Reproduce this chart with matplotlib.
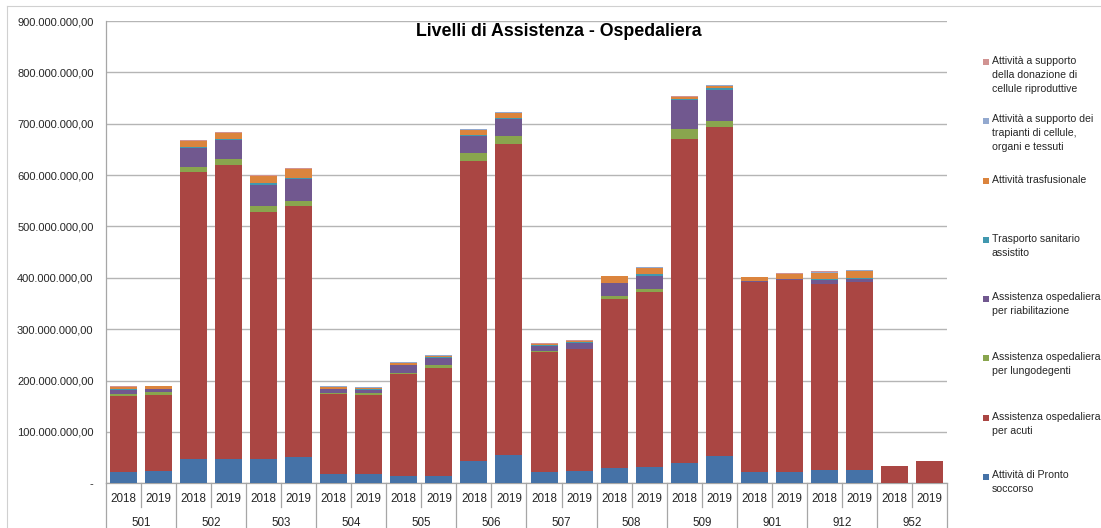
import matplotlib
matplotlib.use("Agg")
import matplotlib.pyplot as plt
from matplotlib.patches import Rectangle
from matplotlib.lines import Line2D
import numpy as np

plt.rcParams['font.family'] = ['Liberation Sans', 'DejaVu Sans']

groups = ['501', '502', '503', '504', '505', '506', '507', '508', '509', '901', '912', '952']
years = ['2018', '2019']

# values in millions of euro, one per bar (group x year)
pronto = [22.6, 24, 47, 47, 47, 51, 18, 18, 13.6, 15, 43, 54.5, 22.6, 24, 29, 31, 39.5, 53, 22.6, 22.6, 26, 26, 0, 0]
acuti = [147.4, 148, 559, 572, 481, 489, 155, 154, 198.4, 209, 584.6, 605.5, 233.4, 237, 329.5, 341.8, 630.9, 640, 369, 373.4, 362, 366, 33.7, 42.8]
lungodegenti = [4.5, 5, 9, 12, 12, 10.5, 3.5, 3, 3, 6.7, 15, 15.7, 1, 1, 5.9, 5.2, 18.6, 13, 0.2, 0.2, 0.3, 0.3, 0, 0]
riabilitazione = [8, 6.5, 38.5, 37.5, 40, 42, 7, 7, 15, 13.3, 33.4, 33.1, 10, 11, 24.6, 25, 58, 60.5, 1.8, 1.8, 6.7, 5.7, 0, 0]
trasporto = [0.5, 0.5, 1, 1, 4, 2.5, 1, 1, 1, 1, 1.6, 1.9, 2, 2, 1, 4, 1, 2.5, 0.4, 0.5, 3, 2, 0.5, 0.5]
trasfusionale = [4, 5, 12, 12, 14, 16.5, 3, 3, 3.6, 3, 11.1, 10.3, 2, 2.5, 13, 13, 4, 4.5, 7, 8.1, 11.7, 14, 0, 0]
trapianti = [0.5, 0.5, 0.5, 0.5, 1, 1, 1, 1, 0.7, 1, 0.6, 1, 1, 0.5, 0.5, 0.5, 1, 1, 0.5, 1.4, 1.3, 1, 0.2, 0.2]
donazione = [1, 0.5, 1.5, 1.5, 1, 0.5, 1, 1, 0.7, 0.6, 0.7, 1, 1, 0.5, 0.5, 0.5, 1, 1, 0.5, 1, 3, 1, 0.1, 0.1]

series = [
    ("Attività di Pronto\nsoccorso", pronto, '#4572A7'),
    ("Assistenza ospedaliera\nper acuti", acuti, '#AA4643'),
    ("Assistenza ospedaliera\nper lungodegenti", lungodegenti, '#89A54E'),
    ("Assistenza ospedaliera\nper riabilitazione", riabilitazione, '#71588F'),
    ("Trasporto sanitario\nassistito", trasporto, '#4198AF'),
    ("Attività trasfusionale", trasfusionale, '#DB843D'),
    ("Attività a supporto dei\ntrapianti di cellule,\norgani e tessuti", trapianti, '#93A9CF'),
    ("Attività a supporto\ndella donazione di\ncellule riproduttive", donazione, '#D19392'),
]

W, H = 1101, 528
fig = plt.figure(figsize=(W / 100, H / 100), dpi=100)
x0, x1, ytop, ybot = 106, 947, 21, 483.3
ax = fig.add_axes([x0 / W, 1 - ybot / H, (x1 - x0) / W, (ybot - ytop) / H])

n = len(groups) * len(years)
xpos = np.arange(n)
bottom = np.zeros(n)
for label, vals, col in series:
    v = np.array(vals) * 1e6
    ax.bar(xpos, v, 0.77, bottom=bottom, color=col, edgecolor='none', zorder=3)
    bottom += v

ax.set_xlim(-0.5, n - 0.5)
ax.set_ylim(0, 900e6)
ax.set_yticks(np.arange(0, 900e6 + 1, 100e6))


def fmt(v):
    if v == 0:
        return '-'
    s = f"{int(round(v)):,}".replace(',', '.')
    return s + ',00'


ax.set_yticklabels([fmt(v) for v in ax.get_yticks()])
ax.tick_params(axis='y', length=0, pad=9, labelsize=8, labelcolor='#262626')
ax.set_xticks([])
ax.grid(axis='y', color='#b5b5b5', linewidth=1.0, zorder=0)
for s in ['top', 'right']:
    ax.spines[s].set_visible(False)
for s in ['left', 'bottom']:
    ax.spines[s].set_color('#a6a6a6')
    ax.spines[s].set_linewidth(0.9)

# category axis (two-level)
tr = ax.get_xaxis_transform()
ah = ybot - ytop
yr_line = -(507 - ybot) / ah
bottom_edge = -(H - ybot) / ah
yr_text = -(499 - ybot) / ah
gr_text = -(523 - ybot) / ah
for i in range(n + 1):
    xb = i - 0.5
    if i % 2 == 0:
        ax.plot([xb, xb], [0, bottom_edge], transform=tr, color='#a6a6a6', lw=0.9, clip_on=False)
    else:
        ax.plot([xb, xb], [0, yr_line], transform=tr, color='#a6a6a6', lw=0.9, clip_on=False)
for i in range(n):
    ax.text(i, yr_text, years[i % 2], transform=tr, ha='center', va='center', fontsize=8.4, color='#262626')
for g, name in enumerate(groups):
    ax.text(2 * g + 0.5, gr_text, name, transform=tr, ha='center', va='center', fontsize=8.4, color='#262626')

# title
fig.text(559 / W, 1 - 32 / H, "Livelli di Assistenza - Ospedaliera", ha='center', va='center',
         fontsize=12.8, fontweight='bold', color='black')

# legend (top to bottom)
leg_y = [62, 121, 181, 240, 299, 358, 418, 477]
for (label, vals, col), yy in zip(reversed(series), leg_y):
    fig.patches.append(Rectangle((983 / W, 1 - (yy + 3) / H), 6 / W, 6 / H, transform=fig.transFigure,
                                 facecolor=col, edgecolor='none'))
    fig.text(992 / W, 1 - (yy - 6.5) / H, label, ha='left', va='top', fontsize=7.6,
             color='#262626', linespacing=1.5)

# chart frame
fig.add_artist(Line2D([7 / W, 7 / W], [0, 1 - 6 / H], transform=fig.transFigure, color='#d0d0d0', lw=0.8))
fig.add_artist(Line2D([7 / W, 1], [1 - 6 / H, 1 - 6 / H], transform=fig.transFigure, color='#d0d0d0', lw=0.8))

fig.savefig('out.png', dpi=100)
